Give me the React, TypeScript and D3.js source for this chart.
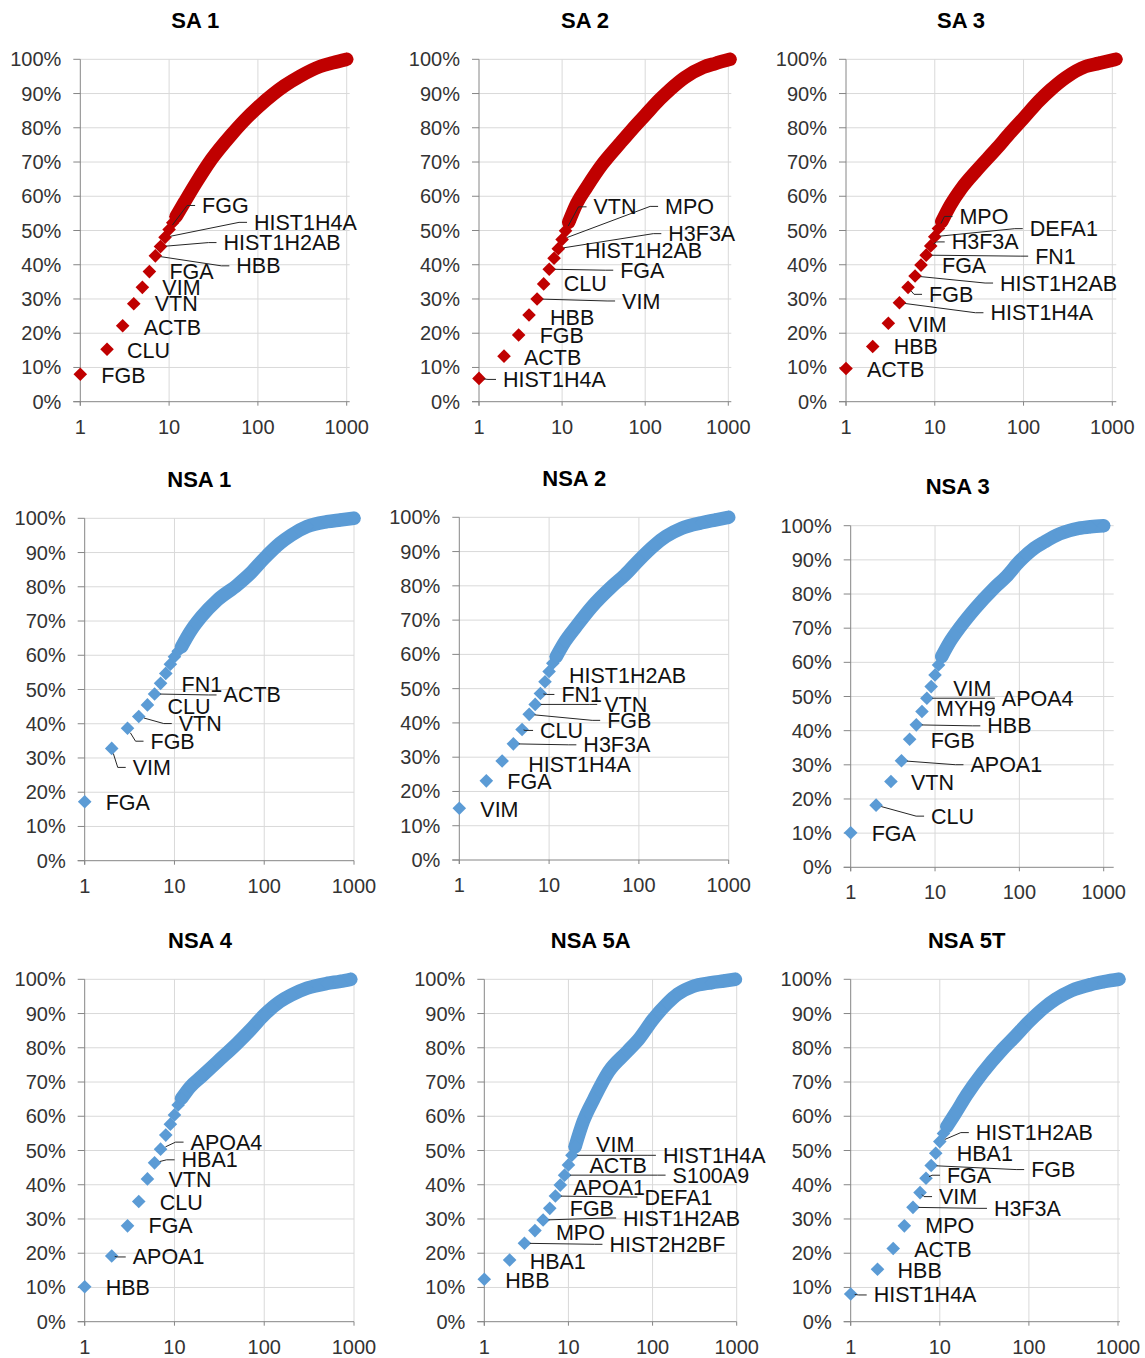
import React from "react";
import * as d3 from "d3";

// Cumulative share of total abundance (%) by protein rank, log-scaled rank axis.
const RED = "#C00000";
const BLUE = "#5B9BD5";

const titles = ["SA 1", "SA 2", "SA 3", "NSA 1", "NSA 2", "NSA 3", "NSA 4", "NSA 5A", "NSA 5T"];
const xTicks = [1, 10, 100, 1000];
const yTicks = [0, 10, 20, 30, 40, 50, 60, 70, 80, 90, 100];

// ranks of the dense tail (after the first 12 individually plotted proteins)
const tailRanks = [15, 20, 30, 50, 70, 100, 150, 200, 300, 500, 700];
const lastRanks = [1000, 1050, 1100, 1000, 1000, 1000, 920, 965, 1025];

// SA 1
const sa1Genes = ["FGB", "CLU", "ACTB", "VTN", "VIM", "FGA", "HBB", "HIST1H2AB", "HIST1H4A", "FGG"];
const sa1Top = [8.0, 15.3, 22.2, 28.6, 33.4, 38.0, 42.6, 45.3, 48.0, 50.3, 52.3, 54.1];
const sa1Tail = [58.4, 63.8, 70.8, 77.9, 82.1, 86.0, 89.9, 92.3, 95.1, 97.9, 99.0];

// SA 2
const sa2Genes = ["HIST1H4A", "ACTB", "FGB", "HBB", "VIM", "CLU", "FGA", "HIST1H2AB", "H3F3A", "MPO", "VTN"];
const sa2Top = [6.8, 13.3, 19.5, 25.3, 30.0, 34.4, 38.7, 41.9, 44.7, 47.4, 49.9, 52.4];
const sa2Tail = [57.9, 62.8, 69.1, 75.5, 79.6, 83.7, 88.3, 91.2, 94.7, 97.7, 98.8];

// SA 3
const sa3Genes = ["ACTB", "HBB", "VIM", "HIST1H4A", "FGB", "HIST1H2AB", "FGA", "FN1", "H3F3A", "DEFA1", "MPO"];
const sa3Top = [9.7, 16.1, 22.9, 28.9, 33.4, 36.7, 39.9, 42.8, 45.5, 48.2, 50.6, 52.6];
const sa3Tail = [57.4, 62.3, 67.7, 74.0, 78.4, 82.8, 87.9, 91.0, 94.7, 97.9, 98.8];

// NSA 1
const nsa1Genes = ["FGA", "VIM", "FGB", "VTN", "CLU", "ACTB", "FN1"];
const nsa1Top = [17.2, 32.8, 38.7, 42.1, 45.5, 48.7, 51.8, 54.7, 57.4, 59.6, 61.2, 62.5];
const nsa1Tail = [66.9, 71.3, 76.1, 80.5, 83.9, 88.3, 92.7, 95.1, 97.6, 99.0, 99.5];

// NSA 2
const nsa2Genes = ["VIM", "FGA", "HIST1H4A", "H3F3A", "CLU", "FGB", "VTN", "FN1", "HIST1H2AB"];
const nsa2Top = [15.1, 23.1, 28.9, 33.9, 38.1, 42.5, 45.4, 48.6, 52.0, 55.0, 57.4, 59.3];
const nsa2Tail = [63.7, 68.1, 73.9, 79.8, 83.2, 87.5, 91.9, 94.4, 96.8, 98.4, 99.2];

// NSA 3
const nsa3Genes = ["FGA", "CLU", "VTN", "APOA1", "FGB", "HBB", "MYH9", "APOA4", "VIM"];
const nsa3Top = [10.1, 18.2, 25.1, 31.2, 37.5, 41.7, 45.6, 49.5, 52.9, 56.3, 59.2, 61.7];
const nsa3Tail = [66.0, 70.4, 75.8, 81.7, 85.1, 89.5, 93.4, 95.3, 97.6, 99.2, 99.7];

// NSA 4
const nsa4Genes = ["HBB", "APOA1", "FGA", "CLU", "VTN", "HBA1", "APOA4"];
const nsa4Top = [10.2, 19.2, 28.0, 35.1, 41.7, 46.4, 50.4, 54.5, 57.7, 60.4, 63.3, 65.2];
const nsa4Tail = [68.6, 71.6, 75.9, 81.3, 85.2, 89.6, 93.5, 95.4, 97.4, 98.8, 99.4];

// NSA 5A
const nsa5aGenes = ["HBB", "HBA1", "HIST2H2BF", "MPO", "HIST1H2AB", "FGB", "DEFA1", "APOA1", "S100A9", "ACTB", "HIST1H4A", "VIM"];
const nsa5aTop = [12.4, 18.0, 22.9, 26.6, 29.7, 33.1, 36.7, 39.9, 42.8, 45.8, 48.6, 51.1];
const nsa5aTail = [58.5, 65.0, 73.0, 78.9, 82.8, 88.1, 93.0, 95.7, 97.9, 99.0, 99.5];

// NSA 5T
const nsa5tGenes = ["HIST1H4A", "HBB", "ACTB", "MPO", "H3F3A", "VIM", "FGA", "FGB", "HBA1", "HIST1H2AB"];
const nsa5tTop = [8.1, 15.3, 21.4, 28.0, 33.4, 37.7, 41.9, 45.6, 49.2, 52.6, 55.0, 57.0];
const nsa5tTail = [60.9, 66.2, 72.6, 79.4, 83.3, 87.6, 91.8, 94.2, 96.7, 98.5, 99.3];

// label placement: [dx, dy, leader] in pixels from the marker centre
const sa1Place = [[21, 1, 0], [20, 1, 0], [21, 2, 0], [21, 0, 0], [20, 0, 0], [20, 0, 0], [81, 10, 1], [63, -4, 1], [89, -15, 1], [33, -24, 1]];
const sa2Place = [[24, 1, 1], [20, 1, 0], [21, 1, 0], [21, 2, 0], [85, 2, 1], [20, 0, 0], [71, 1, 1], [31, -8, 0], [110, -15, 1], [103, -33, 1], [28, -24, 1]];
const sa3Place = [[21, 1, 0], [21, 0, 0], [20, 1, 0], [91, 10, 1], [21, 7, 1], [85, 7, 1], [21, 0, 0], [109, 1, 1], [21, -4, 1], [95, -8, 1], [21, -12, 1]];
const nsa1Place = [[21, 1, 0], [21, 19, 1], [23, 13, 1], [40, 7, 1], [20, 2, 0], [69, 1, 1], [21, 1, 0]];
const nsa2Place = [[21, 1, 0], [21, 1, 0], [26, 4, 0], [70, 1, 1], [18, 1, 1], [78, 6, 1], [69, 0, 1], [21, 1, 1], [24, -6, 0]];
const nsa3Place = [[21, 1, 0], [55, 11, 1], [20, 1, 0], [69, 4, 1], [21, 1, 0], [71, 1, 1], [14, -3, 0], [75, 0, 1], [22, 2, 0]];
const nsa4Place = [[21, 1, 0], [21, 1, 1], [21, 0, 0], [21, 1, 0], [21, 1, 0], [27, -3, 1], [30, -7, 1]];
const nsa5aPlace = [[21, 1, 0], [20, 1, 0], [85, 1, 1], [21, 2, 0], [80, -2, 1], [20, 0, 0], [89, 1, 1], [13, 2, 0], [108, 0, 1], [21, 1, 0], [91, 0, 1], [21, -2, 0]];
const nsa5tPlace = [[23, 1, 1], [20, 1, 0], [21, 1, 0], [21, 0, 0], [81, 1, 1], [19, 4, 1], [21, -3, 1], [100, 4, 1], [21, 0, 0], [36, -9, 1]];

// panel geometry
const px1 = [80.3, 479, 846, 84.7, 459.3, 850.7, 84.7, 484.3, 850.7];
const px1000 = [346.7, 728.3, 1112.3, 354, 728.7, 1103.7, 354, 736.7, 1118];
const pyTop = [59.3, 59.3, 59.3, 518.3, 517.3, 525.7, 979.3, 979.3, 979.3];
const pyBot = [401.7, 401.7, 401.7, 860.7, 860, 867.3, 1321.7, 1321.7, 1321.7];
const pTitleX = [195.3, 585, 961, 199.3, 574.3, 957.7, 200, 590.7, 966.7];
const pGridExtra = [3, 3, 4, 0, 0, 10, 0, 0, 2];

const genes = [sa1Genes, sa2Genes, sa3Genes, nsa1Genes, nsa2Genes, nsa3Genes, nsa4Genes, nsa5aGenes, nsa5tGenes];
const tops = [sa1Top, sa2Top, sa3Top, nsa1Top, nsa2Top, nsa3Top, nsa4Top, nsa5aTop, nsa5tTop];
const tails = [sa1Tail, sa2Tail, sa3Tail, nsa1Tail, nsa2Tail, nsa3Tail, nsa4Tail, nsa5aTail, nsa5tTail];
const places = [sa1Place, sa2Place, sa3Place, nsa1Place, nsa2Place, nsa3Place, nsa4Place, nsa5aPlace, nsa5tPlace];
const colors = [RED, RED, RED, BLUE, BLUE, BLUE, BLUE, BLUE, BLUE];

const FONT = "'Liberation Sans', Arial, Helvetica, sans-serif";
const R = 6.8; // marker half-diagonal
const GRID = "#D9D9D9";
const AXIS = "#868686";

type Pt = { rank: number; pct: number };

function Panel({ i }: { i: number }) {
  const x = d3.scaleLog().domain([1, 1000]).range([px1[i], px1000[i]]);
  const y = d3.scaleLinear().domain([0, 100]).range([pyBot[i], pyTop[i]]);
  const color = colors[i];

  const top: Pt[] = tops[i].map((v, k) => ({ rank: k + 1, pct: v }));
  const tail: Pt[] = [
    top[top.length - 1],
    ...tailRanks.map((r, k) => ({ rank: r, pct: tails[i][k] })),
    { rank: lastRanks[i], pct: 100 },
  ];

  const line = d3
    .line<Pt>()
    .x((d) => x(d.rank))
    .y((d) => y(d.pct))
    .curve(d3.curveMonotoneX);

  const diamond = d3.symbol(d3.symbolSquare, 2 * R * R)() as string;

  const xl = px1[i];
  const xr = px1000[i] + pGridExtra[i];
  const yb = pyBot[i];
  const yt = pyTop[i];

  const labels = genes[i].map((g, k) => {
    const [dx, dy, lead] = places[i][k];
    const cx = x(k + 1);
    const cy = y(tops[i][k]);
    const lx = cx + dx;
    const ly = cy + dy;
    let leader: string | null = null;
    if (lead) {
      const ex = lx - 7;
      const bx = Math.max(cx + 2, ex - 8);
      const vx = bx - cx;
      const vy = ly - cy;
      const len = Math.hypot(vx, vy) || 1;
      const s = Math.min(R * 0.8, len * 0.5);
      const sx = cx + (vx / len) * s;
      const sy = cy + (vy / len) * s;
      leader = d3.line()([[sx, sy], [bx, ly], [ex, ly]]) as string;
    }
    return { g, lx, ly, leader };
  });

  return (
    <g>
      <text
        x={pTitleX[i]}
        y={yt - 39.3}
        dy="0.35em"
        textAnchor="middle"
        fontFamily={FONT}
        fontWeight="bold"
        fontSize={22}
        fill="#000"
      >
        {titles[i]}
      </text>

      {/* grid */}
      {yTicks.filter((t) => t > 0).map((t) => (
        <line key={"h" + t} x1={xl} x2={xr} y1={y(t)} y2={y(t)} stroke={GRID} strokeWidth={1} />
      ))}
      {xTicks.filter((t) => t > 1).map((t) => (
        <line key={"v" + t} x1={x(t)} x2={x(t)} y1={yt} y2={yb} stroke={GRID} strokeWidth={1} />
      ))}

      {/* axes */}
      <line x1={xl} x2={xl} y1={yt} y2={yb + 4} stroke={AXIS} strokeWidth={1} />
      <line x1={xl - 7} x2={xr} y1={yb} y2={yb} stroke={AXIS} strokeWidth={1} />
      {yTicks.map((t) => (
        <line key={"yt" + t} x1={xl - 7} x2={xl} y1={y(t)} y2={y(t)} stroke={AXIS} strokeWidth={1} />
      ))}
      {xTicks.map((t) => (
        <line key={"xt" + t} x1={x(t)} x2={x(t)} y1={yb} y2={yb + 4} stroke={AXIS} strokeWidth={1} />
      ))}

      {yTicks.map((t) => (
        <text
          key={"yl" + t}
          x={xl - 19}
          y={y(t)}
          dy="0.35em"
          textAnchor="end"
          fontFamily={FONT}
          fontSize={20}
          fill="#333"
        >
          {t + "%"}
        </text>
      ))}
      {xTicks.map((t) => (
        <text
          key={"xl" + t}
          x={x(t)}
          y={yb + 25}
          dy="0.35em"
          textAnchor="middle"
          fontFamily={FONT}
          fontSize={20}
          fill="#333"
        >
          {String(t)}
        </text>
      ))}

      {/* dense tail of overlapping markers */}
      <path
        d={line(tail) as string}
        fill="none"
        stroke={color}
        strokeWidth={13.5}
        strokeLinejoin="round"
        strokeLinecap="round"
      />
      {tail.map((d, k) => (
        <path key={"tm" + k} d={diamond} transform={`translate(${x(d.rank)},${y(d.pct)}) rotate(45)`} fill={color} />
      ))}
      {top.map((d) => (
        <path key={"m" + d.rank} d={diamond} transform={`translate(${x(d.rank)},${y(d.pct)}) rotate(45)`} fill={color} />
      ))}

      {labels.map((l, k) =>
        l.leader ? <path key={"ld" + k} d={l.leader} fill="none" stroke="#262626" strokeWidth={1} /> : null
      )}
      {labels.map((l, k) => (
        <text
          key={"lb" + k}
          x={l.lx}
          y={l.ly}
          dy="0.35em"
          fontFamily={FONT}
          fontSize={21.5}
          fill="#111"
        >
          {l.g}
        </text>
      ))}
    </g>
  );
}

export default function App() {
  return (
    <svg
      width={1145}
      height={1358}
      viewBox="0 0 1145 1358"
      style={{ position: "absolute", left: 0, top: 0, background: "#fff" }}
    >
      <rect width={1145} height={1358} fill="#fff" />
      {titles.map((_, i) => (
        <Panel key={i} i={i} />
      ))}
    </svg>
  );
}
